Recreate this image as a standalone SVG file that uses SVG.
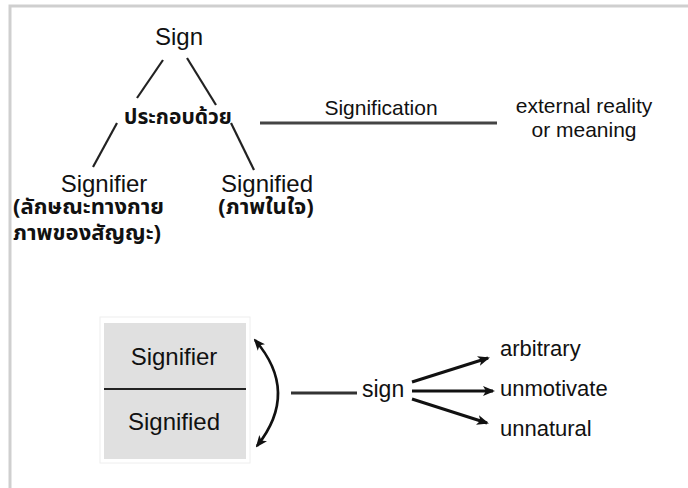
<svg xmlns="http://www.w3.org/2000/svg" width="688" height="488" viewBox="0 0 688 488">
<style>
text{font-family:"Liberation Sans",Arial,sans-serif;fill:#111;}
.big{font-size:24px;}
.mid{font-size:21px;}
.lab{font-size:22px;}
.th{font-family:"Noto Sans Thai","Liberation Sans","DejaVu Sans",sans-serif;font-size:21.5px;font-weight:bold;}
.ln{stroke:#222;stroke-width:2.2;fill:none;}
.arr{stroke:#111;stroke-width:3;fill:none;marker-end:url(#ah);}
</style>
<defs>
<marker id="ah" viewBox="0 0 12 10" refX="10" refY="5" markerWidth="12" markerHeight="10" markerUnits="userSpaceOnUse" orient="auto-start-reverse">
<path d="M0,0 L12,5 L0,10 L3,5 Z" fill="#111"/>
</marker>
</defs>
<rect x="0" y="0" width="688" height="488" fill="#fff"/>
<path d="M10,488 V6 H688" fill="none" stroke="#cfcfcf" stroke-width="3"/>

<g id="sign"><text class="big" x="179" y="45" text-anchor="middle">Sign</text></g>
<g id="composed"><text class="th" x="178" y="124" text-anchor="middle" style="font-size:21px">ประกอบด้วย</text></g>
<g id="signifier-top">
<text class="big" x="104" y="192" text-anchor="middle">Signifier</text>
<text class="th" x="13" y="214" style="font-size:22px">(ลักษณะทางกาย</text>
<text class="th" x="13" y="240" style="font-size:22px">ภาพของสัญญะ)</text>
</g>
<g id="signified-top">
<text class="big" x="267" y="192" text-anchor="middle">Signified</text>
<text class="th" x="266" y="214" text-anchor="middle" style="font-size:22px">(ภาพในใจ)</text>
</g>
<g id="signification"><text class="mid" x="381" y="115" text-anchor="middle">Signification</text></g>
<g id="external">
<text class="mid" x="584" y="113" text-anchor="middle">external reality</text>
<text class="mid" x="584" y="137" text-anchor="middle">or meaning</text>
</g>

<g id="sign-box">
<rect x="100" y="317" width="150" height="146" fill="#fff" stroke="#eee" stroke-width="1"/>
<rect x="104" y="323" width="142" height="136" fill="#e0e0e0"/>
<line x1="104" y1="389" x2="246" y2="389" stroke="#222" stroke-width="2"/>
<text class="big" x="174" y="365" text-anchor="middle">Signifier</text>
<text class="big" x="174" y="430" text-anchor="middle">Signified</text>
</g>
<g id="sign-bottom"><text class="lab" x="362" y="397" style="font-size:23px">sign</text></g>
<g id="arbitrary"><text class="lab" x="500" y="356">arbitrary</text></g>
<g id="unmotivate"><text class="lab" x="500" y="396">unmotivate</text></g>
<g id="unnatural"><text class="lab" x="500" y="436">unnatural</text></g>

<g id="connectors">
<line class="ln" x1="163" y1="60" x2="137" y2="98"/>
<line class="ln" x1="187" y1="58" x2="216" y2="105"/>
<line class="ln" x1="117" y1="123" x2="93" y2="167"/>
<line class="ln" x1="231" y1="123" x2="254" y2="170"/>
<line x1="260" y1="123" x2="497" y2="123" stroke="#444" stroke-width="3"/>
<line x1="291" y1="393" x2="357" y2="393" stroke="#333" stroke-width="3"/>
<path d="M255,340 Q300,392 257,446" class="arr" style="marker-start:url(#ah);stroke-width:2.6"/>
<line class="arr" x1="412" y1="382" x2="488" y2="358"/>
<line class="arr" x1="412" y1="391" x2="493" y2="391"/>
<line class="arr" x1="412" y1="399" x2="487" y2="423"/>
</g>
</svg>
